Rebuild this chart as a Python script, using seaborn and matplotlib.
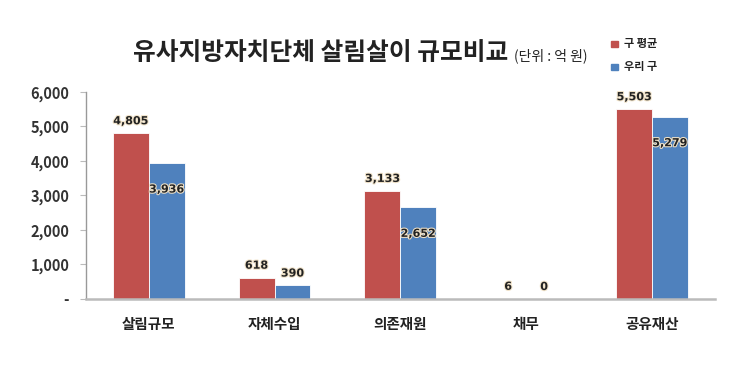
import matplotlib
matplotlib.use("Agg")
import matplotlib.pyplot as plt
import seaborn as sns
import pandas as pd
from matplotlib.patches import Rectangle
import matplotlib.patheffects as pe

categories = ["살림규모", "자체수입", "의존재원", "채무", "공유재산"]
avg_values = [4805, 618, 3133, 6, 5503]
our_values = [3936, 390, 2652, 0, 5279]
series_names = ["구 평균", "우리 구"]
yticks = [0, 1000, 2000, 3000, 4000, 5000, 6000]
ytick_labels = ["-", "1,000", "2,000", "3,000", "4,000", "5,000", "6,000"]

sns.set_theme(style="white")
plt.rcParams['font.family'] = ['Noto Sans CJK KR', 'DejaVu Sans']

df = pd.DataFrame({
    "cat": categories * 2,
    "value": avg_values + our_values,
    "series": [series_names[0]] * 5 + [series_names[1]] * 5,
})

colors = {"구 평균": "#C0504D", "우리 구": "#4F81BD"}

fig = plt.figure(figsize=(7.4, 3.65), dpi=100)
ax = fig.add_axes([0.116, 0.181, 0.850, 0.567])
sns.barplot(data=df, x="cat", y="value", hue="series", palette=colors,
            width=0.57, gap=0.0, ax=ax, legend=False, saturation=1,
            edgecolor="white", linewidth=0.6)

ax.set_xlim(-0.5, 4.5)
ax.set_ylim(0, 6000)
ax.set_yticks(yticks)
ax.set_yticklabels(ytick_labels, fontsize=10.5, fontweight="bold", color="#333333")
ax.set_xlabel("")
ax.set_ylabel("")
ax.tick_params(axis="x", length=0, pad=12, labelsize=10.5, labelcolor="#222222")
ax.tick_params(axis="y", length=4, width=0.8, color="#bbbbbb", pad=8, left=True)
for lbl in ax.get_xticklabels():
    lbl.set_fontweight("bold")
for s in ["top", "right"]:
    ax.spines[s].set_visible(False)
ax.spines["left"].set_color("#999999")
ax.spines["left"].set_linewidth(1.0)
ax.spines["bottom"].set_color("#bbbbbb")
ax.spines["bottom"].set_linewidth(1.8)

stroke = [pe.withStroke(linewidth=1.5, foreground="#f0e2c8")]
# labels
for cont_idx, cont in enumerate(ax.containers):
    vals = avg_values if cont_idx == 0 else our_values
    for bar, v in zip(cont, vals):
        x = bar.get_x() + bar.get_width() / 2
        txt = f"{v:,}"
        if cont_idx == 0 or v < 1000:
            ax.annotate(txt, (x, v), xytext=(0, 5), textcoords="offset points",
                        ha="center", va="bottom", fontsize=8, fontweight="bold",
                        color="#222222", path_effects=stroke, family="DejaVu Sans")
        else:
            ax.annotate(txt, (x, v), xytext=(0, -19), textcoords="offset points",
                        ha="center", va="center", fontsize=8, fontweight="bold",
                        color="#222222", path_effects=stroke, family="DejaVu Sans")

fig.text(0.18, 0.855, "유사지방자치단체 살림살이 규모비교", fontsize=17.8,
         fontweight="bold", color="#222222", ha="left", va="center")
fig.text(0.695, 0.847, "(단위 : 억 원)", fontsize=10, color="#222222",
         ha="left", va="center")

# legend
for i, name in enumerate(series_names):
    yy = 0.88 - i * 0.063
    fig.patches.append(Rectangle((0.826, yy - 0.009), 0.009, 0.018,
                                 transform=fig.transFigure, color=colors[name]))
    fig.text(0.843, yy, name, fontsize=8, color="#222222", ha="left",
             va="center", fontweight="bold")

fig.savefig("out.png", dpi=100)
